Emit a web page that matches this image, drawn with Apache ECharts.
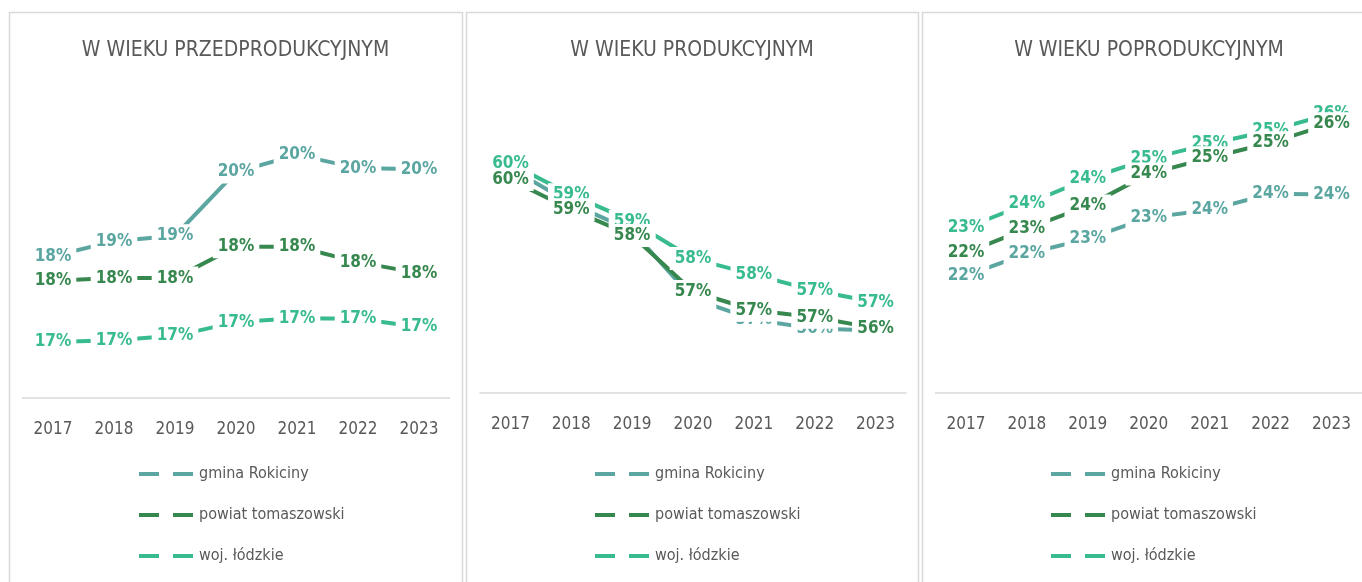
<!DOCTYPE html>
<html><head><meta charset="utf-8">
<script src="https://cdn.jsdelivr.net/npm/echarts@6/dist/echarts.min.js"></script>
<style>html,body{margin:0;padding:0;background:#fff}#c{width:1362px;height:582px}</style>
</head><body><div id="c"></div>
<script>
// ---- data ----
const years = ['2017', '2018', '2019', '2020', '2021', '2022', '2023'];
const seriesNames = ['gmina Rokiciny', 'powiat tomaszowski', 'woj. łódzkie'];
const panelTitles = ['W WIEKU PRZEDPRODUKCYJNYM', 'W WIEKU PRODUKCYJNYM', 'W WIEKU POPRODUKCYJNYM'];

// przedprodukcyjny (%)
const preGmina  = [18.28, 18.55, 18.65, 19.81, 20.12, 19.88, 19.86];
const prePowiat = [17.83, 17.88, 17.88, 18.45, 18.45, 18.17, 17.97];
const preWoj    = [16.72, 16.75, 16.83, 17.08, 17.15, 17.14, 16.99];
// produkcyjny (%)
const prodGmina  = [59.78, 59.03, 58.45, 57.01, 56.56, 56.37, 56.33];
const prodPowiat = [59.54, 58.90, 58.35, 57.16, 56.76, 56.61, 56.38];
const prodWoj    = [59.88, 59.22, 58.65, 57.86, 57.52, 57.18, 56.93];
// poprodukcyjny (%)
const postGmina  = [21.90, 22.44, 22.81, 23.33, 23.52, 23.92, 23.90];
const postPowiat = [22.46, 23.06, 23.62, 24.41, 24.81, 25.18, 25.65];
const postWoj    = [23.08, 23.67, 24.29, 24.78, 25.15, 25.48, 25.90];

// ---- styling ----
const FONT = "'Liberation Sans Narrow','DejaVu Sans Condensed',sans-serif";
const colors = { 'gmina Rokiciny': '#5ca6a1', 'powiat tomaszowski': '#37884f', 'woj. łódzkie': '#38bb8f' };
const panels = [
  { x0: 9, x1: 462, grid: { left: 22.5, width: 427, top: 101, height: 297 }, min: 15.7, max: 21.1,
    data: { 'gmina Rokiciny': preGmina, 'powiat tomaszowski': prePowiat, 'woj. łódzkie': preWoj }, legendLeft: 137 },
  { x0: 466, x1: 918, grid: { left: 480, width: 426, top: 87.5, height: 305.5 }, min: 55, max: 61.5,
    data: { 'gmina Rokiciny': prodGmina, 'powiat tomaszowski': prodPowiat, 'woj. łódzkie': prodWoj }, legendLeft: 593 },
  { x0: 922, x1: 1376, grid: { left: 935.5, width: 427, top: 89.25, height: 303.75 }, min: 19, max: 26.5,
    data: { 'gmina Rokiciny': postGmina, 'powiat tomaszowski': postPowiat, 'woj. łódzkie': postWoj }, legendLeft: 1049 }
];
const drawOrder = ['gmina Rokiciny', 'woj. łódzkie', 'powiat tomaszowski'];

const option = {
  animation: false,
  backgroundColor: '#fff',
  title: [], legend: [], grid: [], xAxis: [], yAxis: [], series: [],
  graphic: []
};

panels.forEach((p, i) => {
  option.graphic.push({
    type: 'rect', z: -10, silent: true,
    shape: { x: p.x0 + 0.5, y: 12.5, width: p.x1 - p.x0, height: 620 },
    style: { fill: '#fff', stroke: '#d9d9d9', lineWidth: 1.5 }
  });
  option.title.push({
    text: panelTitles[i], left: (p.x0 + p.x1) / 2, top: 37, textAlign: 'center', padding: 0,
    textStyle: { fontFamily: FONT, fontSize: 21, fontWeight: 'normal', color: '#595959', lineHeight: 28 }
  });
  option.grid.push(Object.assign({ containLabel: false }, p.grid));
  option.xAxis.push({
    type: 'category', gridIndex: i, data: years, boundaryGap: true,
    axisLine: { lineStyle: { color: '#d9d9d9', width: 1.5 } },
    axisTick: { show: false },
    axisLabel: { color: '#595959', fontFamily: FONT, fontSize: 17, margin: 23, interval: 0 }
  });
  option.yAxis.push({ type: 'value', gridIndex: i, min: p.min, max: p.max, show: false, splitLine: { show: false } });
  drawOrder.forEach(name => {
    option.series.push({
      type: 'line', name: name, xAxisIndex: i, yAxisIndex: i, data: p.data[name],
      color: colors[name],
      symbol: 'circle', symbolSize: 0, showSymbol: true,
      lineStyle: { width: 4, color: colors[name], cap: 'butt' },
      itemStyle: { color: colors[name] },
      emphasis: { disabled: true },
      silent: true,
      label: {
        show: true, position: 'inside', color: colors[name],
        fontFamily: FONT, fontSize: 17, fontWeight: 'bold',
        backgroundColor: '#fff', padding: [3, 5],
        formatter: q => Math.round(q.value) + '%'
      }
    });
  });
  option.legend.push({
    data: seriesNames, orient: 'vertical', left: p.legendLeft, top: 464, padding: 0,
    itemWidth: 55, itemHeight: 14, itemGap: 21,
    selectedMode: false,
    itemStyle: { opacity: 0 },
    lineStyle: { type: [20, 14], width: 4, cap: 'butt' },
    textStyle: { fontFamily: FONT, fontSize: 16, color: '#595959', lineHeight: 20 }
  });
});

const chart = echarts.init(document.getElementById('c'), null, { renderer: 'canvas' });
chart.setOption(option);
</script>
</body></html>
